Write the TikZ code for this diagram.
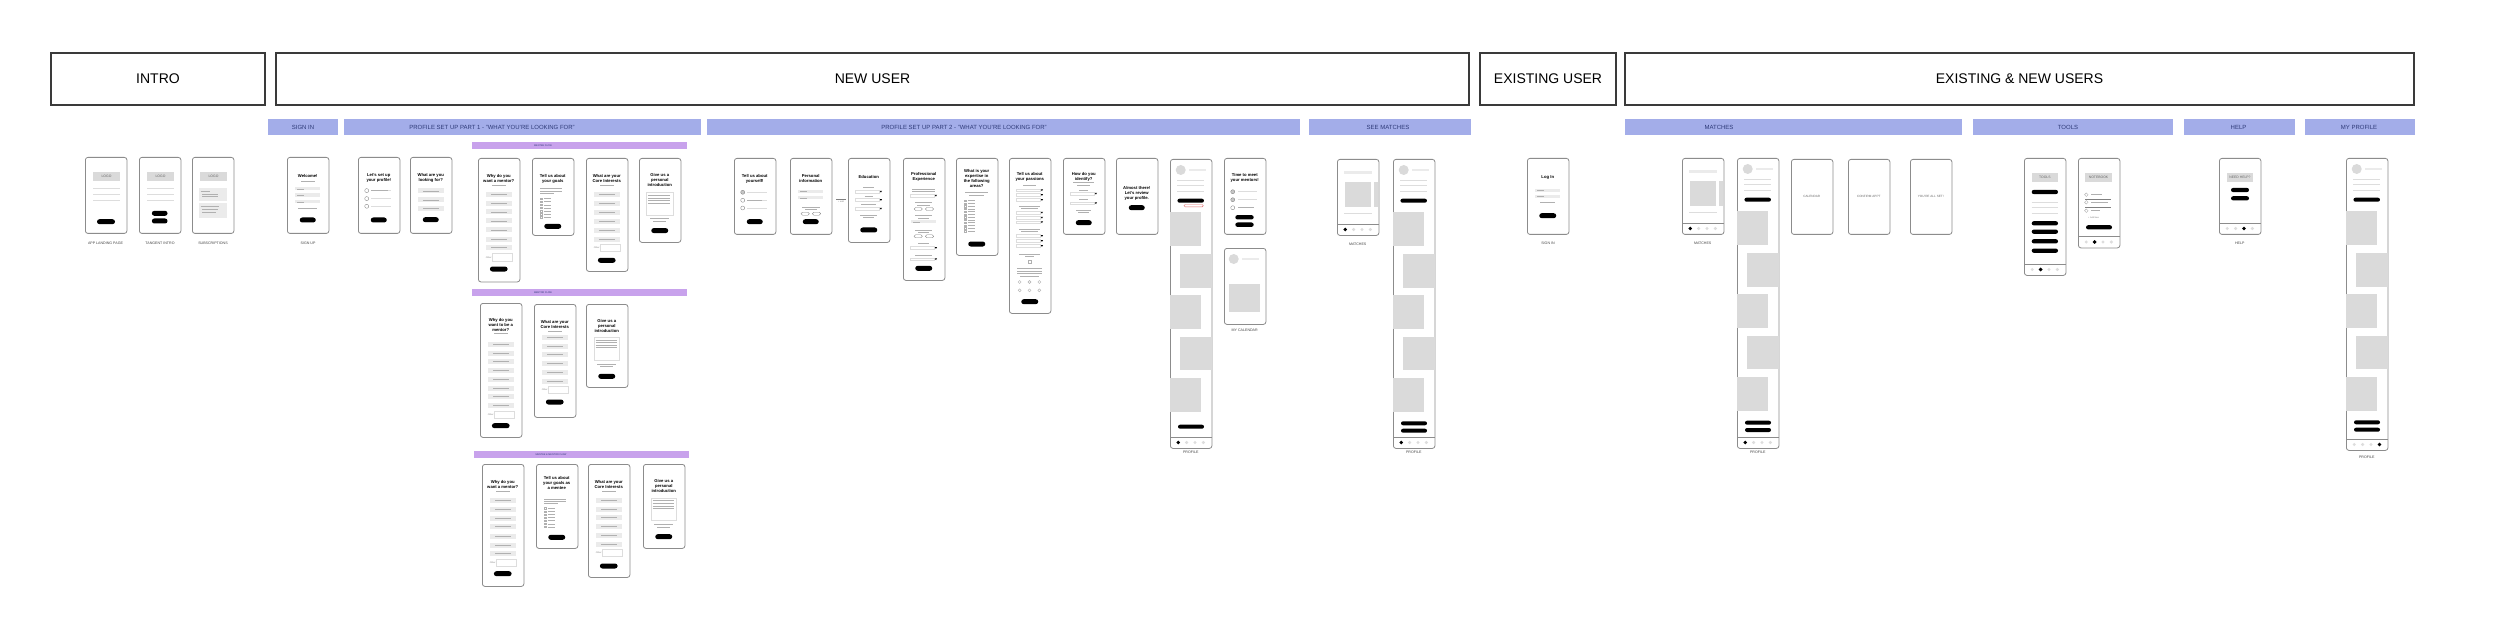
\documentclass[tikz,border=0pt]{standalone}
\usepackage{fontspec}
\setmainfont{Liberation Sans}
\usetikzlibrary{calc}
\definecolor{barblue}{HTML}{A3ADE9}
\definecolor{barpurple}{HTML}{C8A2EC}
\definecolor{navy}{HTML}{2E3A78}
\definecolor{phoneborder}{HTML}{8C8C8C}
\definecolor{blockgray}{HTML}{DADADA}
\definecolor{optfill}{HTML}{EBEBEB}
\definecolor{linegray}{HTML}{DDDDDD}
\definecolor{txtgray}{HTML}{B0B0B0}
\definecolor{labelgray}{HTML}{444444}
\definecolor{dotgray}{HTML}{DDDDDD}
\definecolor{redpill}{HTML}{E06A6A}
\definecolor{hdrborder}{HTML}{3A3A3A}
\newcounter{nn}
\newcommand{\T}[3][]{\stepcounter{nn}\node[#1] (t\arabic{nn}) at (#2) {#3};}
\newcommand{\phone}[4]{\node[phone, minimum height=#4] (#1) at (#2,#3) {};}
\newcommand{\PH}[5]{\phone{#1}{#2}{#3}{#4}\begin{scope}[shift={(#2,#3)}]#5\end{scope}}
\newcommand{\pil}[4][2.5]{\fill[black, rounded corners=#1] ({#2-#4/2},{#3-#1}) rectangle ({#2+#4/2},{#3+#1});}
\newcommand{\opt}[1]{\fill[optfill] (7.5,{#1-2.5}) rectangle (34,{#1+2.5}); \draw[txtgray,line width=.45] (13,#1) -- (28.5,#1);}
\newcommand{\gl}[3]{\draw[linegray, line width=.8] (#1,#3) -- (#2,#3);}
\newcommand{\tl}[3]{\draw[txtgray, line width=.45] (#1,#3) -- (#2,#3);}
\newcommand{\inp}[1]{\fill[optfill] (8.3,{#1-1.6}) rectangle (33.3,{#1+1.6}); \draw[txtgray,line width=.35] (10,#1) -- (17,#1);}
\newcommand{\dd}[1]{\draw[linegray, line width=.45] (7.5,{#1-1.4}) rectangle (31,{#1+1.4}); \fill (31.8,{#1-.9}) -- (34,{#1-.9}) -- (32.9,{#1+.9}) -- cycle;}
\newcommand{\chk}[1]{\draw[txtgray, line width=.3] (8.5,{#1-.7}) rectangle (9.9,{#1+.7}); \draw[txtgray, line width=.4] (12,#1) -- (19,#1);}
\newcommand{\radrow}[2]{\draw[gray,line width=.35, fill=#2] (8.7,#1) circle (2); \gl{13.3}{33}{#1}}
\newcommand{\yn}[1]{\draw[gray,line width=.35,rounded corners=1.5] (11,{#1-1.5}) rectangle (19.3,{#1+1.5}); \draw[gray,line width=.35,rounded corners=1.5] (22.3,{#1-1.5}) rectangle (30.7,{#1+1.5});}
\newcommand{\nav}[2]{\draw[phoneborder,line width=.5] (0,{#1-11}) -- (41.5,{#1-11});
  \foreach \k in {1,2,3,4}{\fill[dotgray] ({8.2+(\k-1)*8.4},{#1-5.5}) circle (1.7);}
  \fill[black] ({8.2+(#2-1)*8.4},{#1-5.5}) circle (1.9);}
\newcommand{\logo}{\fill[blockgray] (8.4,14.6) rectangle (34.7,24); \T[boxtxt]{21.5,19.3}{LOGO}}
\newcommand{\proftop}{\fill[blockgray] (10.7,11) circle (5); \fill[optfill] (19,9.6) rectangle (36.3,12.4);
  \gl{7.3}{34}{21}\gl{7.3}{34}{26.3}\gl{7.3}{34}{32}\pil[2]{20.7}{41.7}{26.5}
  \fill[blockgray] (0,53.5) rectangle (31,87); \fill[blockgray] (10.3,95) rectangle (41.5,128.7);
  \fill[blockgray] (0,135.7) rectangle (31,170); \fill[blockgray] (10.3,177.7) rectangle (41.5,211.3);
  \fill[blockgray] (0,218.7) rectangle (31,252.7);}
\newcommand{\matches}{\fill[optfill] (7.3,11.6) rectangle (34.7,15); \fill[blockgray] (7.7,23.3) rectangle (33.7,48);
  \fill[blockgray] (36.7,23.3) rectangle (40.7,48); \gl{7.3}{34.7}{54.3}\nav{76}{1}}
\newcommand{\textarea}[3]{\draw[linegray, line width=.5] (#1,#2) rectangle ({41.5-#1},#3);
  \foreach \q in {1,2,3,4}{\tl{#1+1.5}{41.5-#1-3}{#2+\q*2.6}}}
\begin{document}
\begin{tikzpicture}[x=1pt,y=-1pt,
  phone/.style={draw=phoneborder, line width=.8, rounded corners=2.5, fill=white, minimum width=41.5, inner sep=0, anchor=north west},
  hdr/.style={draw=hdrborder, line width=1.1, font=\fontsize{14}{16}\selectfont, inner sep=0},
  bbar/.style={fill=barblue, minimum height=16, inner sep=0},
  btxt/.style={text=navy, font=\fontsize{6}{7}\selectfont, inner sep=0},
  pbar/.style={fill=barpurple, minimum height=7, inner sep=0},
  ptxt/.style={text=navy, font=\fontsize{2.4}{3}\selectfont, inner sep=0},
  ttl/.style={font=\bfseries\fontsize{4.2}{5}\selectfont, align=center, inner sep=0, anchor=north},
  lbl/.style={font=\fontsize{3.6}{4}\selectfont, text=labelgray, inner sep=0},
  boxtxt/.style={font=\fontsize{3.4}{4}\selectfont, text=labelgray!80, inner sep=0},
  tiny/.style={font=\fontsize{2.2}{2.6}\selectfont, text=gray, inner sep=0},
  scrtxt/.style={font=\fontsize{3.1}{4}\selectfont, text=labelgray!80, inner sep=0}]
\useasboundingbox (0,0) rectangle (2500,639);
\fill[white] (0,0) rectangle (2500,639);

% ---------------- headers
\node[hdr, minimum width=214, minimum height=52] (hIntro) at (158,79) {INTRO};
\node[hdr, minimum width=1193, minimum height=52] (hNew) at (872.5,79) {NEW USER};
\node[hdr, minimum width=136, minimum height=52] (hExist) at (1548,79) {EXISTING USER};
\node[hdr, minimum width=789, minimum height=52] (hBoth) at (2019.5,79) {EXISTING \& NEW USERS};

% ---------------- blue bars
\node[bbar, minimum width=70] (b1) at (303,127) {}; \node[btxt] (bt1) at (303,127) {SIGN IN};
\node[bbar, minimum width=357] (b2) at (522.5,127) {}; \node[btxt] (bt2) at (492,127) {PROFILE SET UP  PART 1 - "WHAT YOU'RE LOOKING FOR"};
\node[bbar, minimum width=593] (b3) at (1003.5,127) {}; \node[btxt] (bt3) at (964,127) {PROFILE SET UP  PART 2 - "WHAT YOU'RE LOOKING FOR"};
\node[bbar, minimum width=162] (b4) at (1390,127) {}; \node[btxt] (bt4) at (1388,127) {SEE MATCHES};
\node[bbar, minimum width=337] (b5) at (1793.5,127) {}; \node[btxt] (bt5) at (1719,127) {MATCHES};
\node[bbar, minimum width=200] (b6) at (2073,127) {}; \node[btxt] (bt6) at (2068,127) {TOOLS};
\node[bbar, minimum width=111] (b7) at (2239.5,127) {}; \node[btxt] (bt7) at (2238.5,127) {HELP};
\node[bbar, minimum width=110] (b8) at (2360,127) {}; \node[btxt] (bt8) at (2359,127) {MY PROFILE};

% ---------------- purple bars
\node[pbar, minimum width=215] (p1) at (579.5,145.5) {}; \node[ptxt] (pt1) at (543,145.5) {MENTEE FLOW};
\node[pbar, minimum width=215] (p2) at (579.5,292.5) {}; \node[ptxt] (pt2) at (543,292.5) {MENTOR FLOW};
\node[pbar, minimum width=215] (p3) at (581.5,454.5) {}; \node[ptxt] (pt3) at (551,454.5) {MENTEE \& MENTOR FLOW};

% ---------------- INTRO
\PH{P1}{85}{157}{76}{\logo \gl{8}{35}{31.7}\gl{8}{35}{37}\gl{8}{35}{43}\pil{21}{64.7}{18}}
\PH{P2}{139}{157}{76}{\logo \gl{8}{35}{31.7}\gl{8}{35}{37}\gl{8}{35}{43}\pil{20.7}{56.3}{15.7}\pil{20.7}{64}{15.7}}
\PH{P3}{192}{157}{76}{\logo \fill[optfill] (6.6,31) rectangle (34.9,44); \fill[optfill] (6.6,46.3) rectangle (34.9,60.6);
  \tl{8.5}{18}{34}\tl{10}{26}{37}\tl{10}{26}{39.5}\tl{8.5}{27}{49.5}\tl{10}{26}{52.5}\tl{10}{24}{55}}
\node[lbl] (l1) at (105.5,243) {APP LANDING PAGE};
\node[lbl] (l2) at (160,243) {TANGENT INTRO};
\node[lbl] (l3) at (213,243) {SUBSCRIPTIONS};

% ---------------- SIGN IN (new user)
\PH{S1}{287}{157}{76}{\T[ttl]{20.75,16.8}{Welcome!} \tl{14}{27.5}{24}
  \inp{31.7}\inp{38}\inp{44.7}\tl{11}{30}{51.3}\pil{20.75}{63}{16}}
\node[lbl] (l4) at (308,243) {SIGN UP};

% ---------------- PART 1
\PH{Q1}{358}{157}{76}{\T[ttl]{20.75,16.5}{Let's set up\\your profile!}
  \radrow{33.6}{white}\radrow{41.6}{white}\radrow{49.3}{white}\tl{13.3}{30}{33.6}\pil{20.75}{63}{16}}
\PH{Q2}{410}{157}{76}{\T[ttl]{20.75,16.5}{What are you\\looking for?}
  \opt{34}\opt{43}\opt{51.7}\pil{20.75}{62.7}{16}}

\PH{A1}{478}{158}{123.5}{\T[ttl]{20.75,16.3}{Why do you\\want a mentor?}\tl{14}{27.5}{27}
  \foreach \yy in {36.3,45.3,54,63,72,81,89.6}{\opt{\yy}}
  \T[tiny,anchor=west]{7.6,99.3}{Other:}\draw[linegray,line width=.5] (14.6,95.6) rectangle (34,103);
  \pil{20.75}{111}{17.7}}
\PH{A2}{532}{158}{77}{\T[ttl]{20.75,16.3}{Tell us about\\your goals}
  \tl{8}{30}{30.6}\tl{8}{30}{32.8}\tl{8}{22}{35}
  \foreach \yy in {40.6,43.7,46.8,49.9,53,56,59}{\chk{\yy}}\pil{20.75}{68.3}{17}}
\PH{A3}{586}{158}{113}{\T[ttl]{20.75,16.3}{What are your\\Core Interests}\tl{14}{27.5}{27}
  \foreach \yy in {36.3,45.3,54.6,63.6,72.3,81}{\opt{\yy}}
  \T[tiny,anchor=west]{7.6,90}{Other:}\draw[linegray,line width=.5] (14.6,86.5) rectangle (34,93.5);
  \pil{20.75}{102.3}{17.7}}
\PH{A4}{639}{158}{84}{\T[ttl]{20.75,15.3}{Give us a\\personal\\introduction}
  \textarea{7.4}{34.6}{57.3}\tl{11}{30}{60.6}\tl{14}{27}{63}\pil{20.75}{72.6}{17}}

\PH{B1}{480}{303}{134}{\T[ttl]{20.75,15}{Why do you\\want to be a\\mentor?}\tl{14}{27.5}{30.7}
  \foreach \yy in {41.3,50,58.7,67.3,76,85,93.7,102.3}{\opt{\yy}}
  \T[tiny,anchor=west]{7.6,112}{Other:}\draw[linegray,line width=.5] (14.6,108.5) rectangle (34,115.5);
  \pil{20.75}{122.7}{17.7}}
\PH{B2}{534}{304}{113}{\T[ttl]{20.75,16.3}{What are your\\Core Interests}\tl{14}{27.5}{27}
  \foreach \yy in {33.5,42,50.7,59.3,68.3,77}{\opt{\yy}}
  \T[tiny,anchor=west]{7.6,86}{Other:}\draw[linegray,line width=.5] (14.6,82.5) rectangle (34,89.5);
  \pil{20.75}{98}{17.7}}
\PH{B3}{586}{304}{83}{\T[ttl]{20.75,15.3}{Give us a\\personal\\introduction}
  \textarea{8}{33.3}{56.3}\tl{11}{30}{60.3}\tl{14}{27}{62.7}\pil{20.75}{72.3}{17}}

\PH{C1}{482}{464}{122}{\T[ttl]{20.75,16.3}{Why do you\\want a mentor?}\tl{14}{27.5}{27.7}
  \foreach \yy in {36.7,45.7,54.3,62.7,72,81,89.7}{\opt{\yy}}
  \T[tiny,anchor=west]{7.6,99}{Other:}\draw[linegray,line width=.5] (14.6,95.5) rectangle (34,102.5);
  \pil{20.75}{109.7}{17.7}}
\PH{C2}{536}{464}{84}{\T[ttl]{20.75,12.3}{Tell us about\\your goals as\\a mentee}
  \tl{8}{30}{35}\tl{8}{30}{37.2}\tl{8}{22}{39.4}
  \foreach \yy in {44.3,47.4,50.5,53.6,56.6,59.7,62.7}{\chk{\yy}}\pil{20.75}{73.3}{17}}
\PH{C3}{588}{464}{113}{\T[ttl]{20.75,16.3}{What are your\\Core Interests}\tl{14}{27.5}{27.7}
  \foreach \yy in {36.3,45,53.7,62.7,71.7,80.3}{\opt{\yy}}
  \T[tiny,anchor=west]{7.6,89}{Other:}\draw[linegray,line width=.5] (14.6,85.5) rectangle (34,92.5);
  \pil{20.75}{102}{17.7}}
\PH{C4}{643}{464}{84}{\T[ttl]{20.75,15.2}{Give us a\\personal\\introduction}
  \textarea{8}{34}{56.3}\tl{11}{30}{60.7}\tl{14}{27}{63}\pil{20.75}{72.7}{17}}

% ---------------- PART 2
\PH{D1}{734}{158}{76}{\T[ttl]{20.75,16.5}{Tell us about\\yourself!}
  \radrow{34.3}{gray!45}\radrow{42.3}{white}\radrow{50}{white}\tl{13.3}{28}{42.3}\pil{20.75}{63.7}{16}}
\PH{D2}{790}{158}{76}{\T[ttl]{20.75,16.5}{Personal\\information}
  \inp{33.3}\inp{39.7}\tl{12}{29.5}{49.3}\tl{15}{26.5}{51.5}\yn{55.7}\pil{20.75}{63.7}{16}}
\coordinate (k1) at (836,199.3); \coordinate (k2) at (846,199.3);
\draw[gray, line width=.5] (k1) -- (k2);
\node[tiny] (kt) at (841,202) {+ add};
\PH{D3}{848}{158}{84}{\T[ttl]{20.75,16.8}{Education}
  \tl{15}{26}{29.7}\dd{33.7}\tl{16.5}{24.5}{38.3}\dd{42}\tl{13}{28}{46.7}\dd{50.7}
  \tl{12}{29}{57}\tl{15}{26}{59.3}\pil{20.75}{72}{17}}
\PH{D4}{903}{158}{122}{\T[ttl]{20.75,14.5}{Professional\\Experience}
  \tl{9}{32}{31}\tl{9}{32}{33.5}\dd{37.7}\tl{12}{29}{44.7}\tl{14}{27}{46.8}\yn{51}
  \tl{12}{29}{57.7}\tl{15}{26}{59.8}\inp{63.7}\tl{12}{29}{72}\tl{15}{26}{74.2}\yn{78.3}
  \tl{15}{26}{85.3}\dd{90}\tl{12}{29}{97}\dd{101.3}\pil{20.75}{110.3}{17}}
\PH{D5}{956}{158}{97}{\T[ttl]{20.75,11.5}{What is your\\expertise in\\the following\\areas?}
  \tl{9}{32}{34.7}\tl{13}{28}{37.2}
  \foreach \yy in {42.7,45.45,48.2,50.95,53.7,56.45,59.2,61.95,64.7,67.45,70.2,73}{\chk{\yy}}
  \pil{20.75}{86}{17}}
\PH{D6}{1009}{158}{155}{\T[ttl]{20.75,14.5}{Tell us about\\your passions}
  \tl{14}{27}{27.7}\dd{32.3}\dd{37}\dd{42}
  \tl{10}{31}{48}\tl{12}{29}{50.3}\dd{54.7}\dd{59.7}\dd{64.3}
  \tl{10}{31}{71}\tl{12}{29}{73.3}\dd{78}\dd{83}\dd{88}
  \tl{10}{31}{96}\tl{16}{25}{98.2}\draw[txtgray,line width=.4] (19.3,101.8) rectangle (22.3,104.8);
  \tl{8}{33}{110.3}\tl{8}{33}{112.8}\tl{8}{33}{115.3}\tl{11}{30}{117.8}
  \foreach \xx in {10.7,20.5,30.3}{\draw[txtgray,line width=.4] (\xx,124) circle (1.5); \draw[txtgray,line width=.4] (\xx,132.3) circle (1.5);}
  \pil{20.75}{143.7}{17}}
\PH{D7}{1063}{158}{76}{\T[ttl]{20.75,14.5}{How do you\\identify?}
  \tl{10}{31}{24.7}\tl{14}{27}{26.9}\tl{16}{25}{32.3}\dd{35.7}\tl{16}{25}{41.7}\dd{45.3}
  \tl{13}{28}{52}\tl{15}{26}{54.3}\pil{20.75}{64.7}{16}}
\PH{D8}{1116}{158}{76}{\T[ttl]{20.75,28}{Almost there!\\Let's review\\your profile.}\pil{20.75}{49.7}{16}}
\PH{D9}{1170}{159}{289}{\proftop
  \draw[redpill, line width=.4, rounded corners=1.2] (14,45.5) rectangle (33.3,47.9);
  \pil[2]{21}{267.7}{26}\nav{289}{1}}
\PH{D10}{1224}{158}{76}{\T[ttl]{20.75,15.5}{Time to meet\\your mentors!}
  \draw[gray,line width=.35,fill=gray!45] (8.7,33.7) circle (2); \gl{14}{32.7}{33.7}
  \draw[gray,line width=.35,fill=gray!45] (8.7,41.7) circle (2); \gl{14}{32.7}{41.7}
  \draw[gray,line width=.35] (8.7,49.7) circle (2); \tl{14}{30}{49.7}
  \pil[2.2]{20.5}{59.3}{18.4}\pil[2.2]{20.5}{66.7}{18.4}}
\PH{D11}{1224}{248}{76}{\fill[blockgray] (9.7,11) circle (5); \fill[optfill] (18,9.6) rectangle (35.3,12.4);
  \fill[blockgray] (5.3,35.7) rectangle (36.3,63.7);}
\node[lbl] (l5) at (1190.7,452.5) {PROFILE};
\node[lbl] (l6) at (1244.7,330) {MY CALENDAR};

% ---------------- SEE MATCHES
\PH{E1}{1337}{159}{76}{\matches}
\PH{E2}{1393}{159}{289}{\proftop\pil[2]{21}{264.3}{26}\pil[2]{21}{271.7}{26}\nav{289}{1}}
\node[lbl] (l7) at (1357.7,244) {MATCHES};
\node[lbl] (l8) at (1413.7,452.5) {PROFILE};

% ---------------- EXISTING USER
\PH{F1}{1527}{158}{76}{\T[ttl]{20.75,17.3}{Log In}\inp{32.3}\inp{38.3}\tl{13}{28}{44.7}\pil{20.75}{57.7}{17}}
\node[lbl] (l9) at (1548,243) {SIGN IN};

% ---------------- MATCHES (existing & new)
\PH{G1}{1682}{158}{76}{\matches}
\PH{G2}{1737}{158}{290}{\proftop\pil[2]{21}{264.7}{26}\pil[2]{21}{272}{26}\nav{290}{1}}
\PH{G3}{1791}{159}{75}{\T[scrtxt]{20.75,37.7}{CALENDAR}}
\PH{G4}{1848}{159}{75}{\T[scrtxt]{20.75,37.7}{CONFIRM APPT}}
\PH{G5}{1910}{159}{75}{\T[scrtxt]{20.75,37.7}{YOU'RE ALL SET!}}
\node[lbl] (l10) at (1702.7,243) {MATCHES};
\node[lbl] (l11) at (1757.7,452.5) {PROFILE};

% ---------------- TOOLS
\PH{H1}{2024}{158}{117}{\fill[blockgray] (7.7,15) rectangle (34,24.3); \T[boxtxt]{20.85,19.7}{TOOLS}
  \pil[2.1]{20.85}{34}{26.3}\gl{7.7}{34}{44}\gl{7.7}{34}{49.3}\gl{7.7}{34}{55}
  \pil[2.1]{20.85}{65.3}{26.3}\pil[2.1]{20.85}{73.7}{26.3}\pil[2.1]{20.85}{83.3}{26.3}\pil[2.1]{20.85}{92.7}{26.3}
  \nav{117}{2}}
\PH{H2}{2078}{158}{89.5}{\fill[blockgray] (7,15) rectangle (34,24); \T[boxtxt]{20.5,19.5}{NOTEBOOK}
  \draw[txtgray,line width=.4] (8.3,36.7) circle (1.8); \tl{13}{24}{36.7}\draw[gray,line width=.35] (7,41) -- (33,41);
  \draw[txtgray,line width=.4] (8.3,44.3) circle (1.8); \tl{13}{30}{44.3}\draw[gray,line width=.35] (7,49) -- (33,49);
  \draw[txtgray,line width=.4] (8.3,52.7) circle (1.8); \tl{13}{22}{52.7}
  \T[tiny,anchor=west]{10,60}{+ Add New}\pil[2.1]{21}{69.3}{26}\nav{89.5}{2}}

% ---------------- HELP
\PH{I1}{2219}{158}{76}{\fill[blockgray] (8,15) rectangle (34,24); \T[boxtxt]{21,19.5}{NEED HELP?}
  \pil[2.1]{21}{32}{18}\pil[2.1]{21}{40.3}{18}\nav{76}{3}}
\node[lbl] (l12) at (2239.7,243) {HELP};

% ---------------- MY PROFILE
\PH{J1}{2346}{158}{292}{\proftop\pil[2]{21}{264.3}{26}\pil[2]{21}{271.7}{26}\nav{292}{4}}
\node[lbl] (l13) at (2366.7,457.3) {PROFILE};
\end{tikzpicture}
\end{document}
